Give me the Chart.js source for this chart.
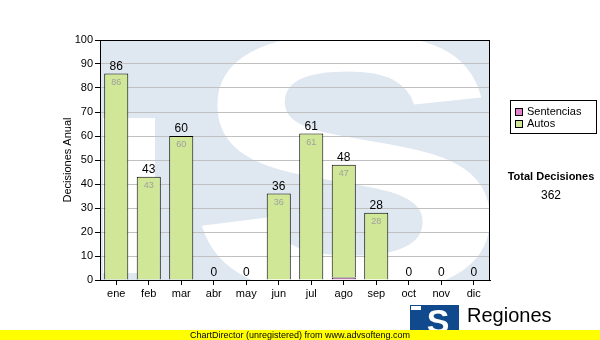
<!DOCTYPE html>
<html>
<head>
<meta charset="utf-8">
<script src="https://cdn.jsdelivr.net/npm/chart.js@4.4.1/dist/chart.umd.min.js"></script>
<style>
  html, body { margin: 0; padding: 0; background: #fff; }
  #wrap { width: 600px; height: 340px; }
</style>
</head>
<body>
<div id="wrap"><canvas id="myChart" width="600" height="340"></canvas></div>
<script>
var months = ["ene", "feb", "mar", "abr", "may", "jun", "jul", "ago", "sep", "oct", "nov", "dic"];
var sentencias = [0, 0, 0, 0, 0, 0, 0, 1, 0, 0, 0, 0];
var autos = [86, 43, 60, 0, 0, 36, 61, 47, 28, 0, 0, 0];
var yTicks = [0, 10, 20, 30, 40, 50, 60, 70, 80, 90, 100];
var totalLabel = "Total Decisiones";
var totalValue = 362;

var FONT = "Arial, 'Liberation Sans', sans-serif";

// plot background with the big "S" watermark
var watermark = {
    id: "watermark",
    beforeDraw: function (chart) {
        var c = chart.ctx, a = chart.chartArea;
        c.save();
        c.beginPath();
        c.rect(a.left, a.top, a.right - a.left, a.bottom - a.top);
        c.clip();
        c.fillStyle = "#dfe8f1";
        c.fillRect(a.left, a.top, a.right - a.left, a.bottom - a.top);
        c.fillStyle = "#ffffff";
        c.fillRect(a.left + 3, a.top + 78, 52, 155);
        c.translate(a.left + 88, a.bottom + 12);
        c.scale(1.3, 1);
        c.font = "bold 370px " + FONT;
        c.textBaseline = "alphabetic";
        c.fillText("S", 0, 0);
        c.restore();
    }
};

// labels, frame, legend, totals, footer
var extras = {
    id: "extras",
    afterDatasetsDraw: function (chart) {
        var c = chart.ctx, a = chart.chartArea;
        var y = chart.scales.y;
        var metaA = chart.getDatasetMeta(1);
        c.save();
        c.strokeStyle = "#000";
        c.lineWidth = 1;
        c.strokeRect(a.left + 0.5, a.top + 0.5, a.right - a.left - 1, a.bottom - a.top);
        c.textAlign = "center";
        for (var i = 0; i < months.length; i++) {
            var total = sentencias[i] + autos[i];
            var bar = metaA.data[i];
            var top = y.getPixelForValue(total);
            c.fillStyle = "#000";
            c.font = "12px " + FONT;
            c.textBaseline = "bottom";
            c.fillText(String(total), bar.x, top - 1);
            if (autos[i] > 0) {
                c.fillStyle = "#a0a0a0";
                c.font = "9px " + FONT;
                c.textBaseline = "top";
                c.fillText(String(autos[i]), bar.x, top + 4);
            }
        }
        c.restore();
    },
    afterDraw: function (chart) {
        var c = chart.ctx;
        c.save();
        // legend
        c.strokeStyle = "#000";
        c.lineWidth = 1;
        c.strokeRect(510.5, 100.5, 86, 33);
        var items = chart.data.datasets;
        c.font = "11px " + FONT;
        c.textAlign = "left";
        c.textBaseline = "middle";
        for (var k = 0; k < items.length; k++) {
            var yy = 112 + k * 12;
            c.fillStyle = items[k].backgroundColor;
            c.fillRect(515, yy - 4, 8, 8);
            c.strokeRect(515.5, yy - 3.5, 7, 7);
            c.fillStyle = "#000";
            c.fillText(items[k].label, 527, yy);
        }
        // totals
        c.textAlign = "center";
        c.font = "bold 11px " + FONT;
        c.fillText(totalLabel, 551, 177);
        c.font = "12px " + FONT;
        c.fillText(String(totalValue), 551, 196);
        // logo
        c.fillStyle = "#114a8c";
        c.fillRect(410, 305, 49, 28);
        c.fillStyle = "#fff";
        c.fillRect(411, 306, 10, 4);
        c.font = "bold 34px " + FONT;
        c.textBaseline = "alphabetic";
        c.fillText("S", 438, 333);
        c.fillStyle = "#000";
        c.textAlign = "left";
        c.font = "20px " + FONT;
        c.fillText("Regiones", 467, 322);
        // footer
        c.fillStyle = "#ffff00";
        c.fillRect(0, 330, 600, 10);
        c.fillStyle = "#000";
        c.textAlign = "center";
        c.font = "9px " + FONT;
        c.fillText("ChartDirector (unregistered) from www.advsofteng.com", 300, 338);
        c.restore();
    }
};

function border(ctx) {
    return ctx.raw > 0 ? 1 : 0;
}

var ctx = document.getElementById("myChart");
var myChart = new Chart(ctx, {
    type: "bar",
    data: {
        labels: months,
        datasets: [{
            label: "Sentencias",
            backgroundColor: "#e080c8",
            borderColor: "#000",
            borderWidth: border,
            data: sentencias
        }, {
            label: "Autos",
            backgroundColor: "#d0e797",
            borderColor: "#000",
            borderWidth: border,
            data: autos
        }]
    },
    plugins: [watermark, extras],
    options: {
        responsive: false,
        animation: false,
        layout: { padding: { left: 61, right: 110, top: 40, bottom: 0 } },
        categoryPercentage: 1,
        barPercentage: 0.74,
        plugins: {
            legend: { display: false },
            tooltip: { enabled: false }
        },
        scales: {
            x: {
                stacked: true,
                afterFit: function (s) { s.height = 60; },
                grid: { display: true, drawOnChartArea: false, offset: false, tickLength: 5, tickColor: "#000" },
                border: { color: "#000" },
                ticks: { color: "#000", font: { family: FONT, size: 11 }, padding: 2 }
            },
            y: {
                stacked: true,
                min: 0,
                max: 100,
                afterFit: function (s) { s.width = 39; },
                afterBuildTicks: function (s) { s.ticks = yTicks.map(function (v) { return { value: v }; }); },
                grid: { color: "#c0c0c0", tickLength: 5, tickColor: "#000" },
                border: { color: "#000" },
                ticks: { color: "#000", font: { family: FONT, size: 11 }, padding: 2 },
                title: { display: true, text: "Decisiones Anual", color: "#000", font: { family: FONT, size: 11 }, padding: 0 }
            }
        }
    }
});
</script>
</body>
</html>
